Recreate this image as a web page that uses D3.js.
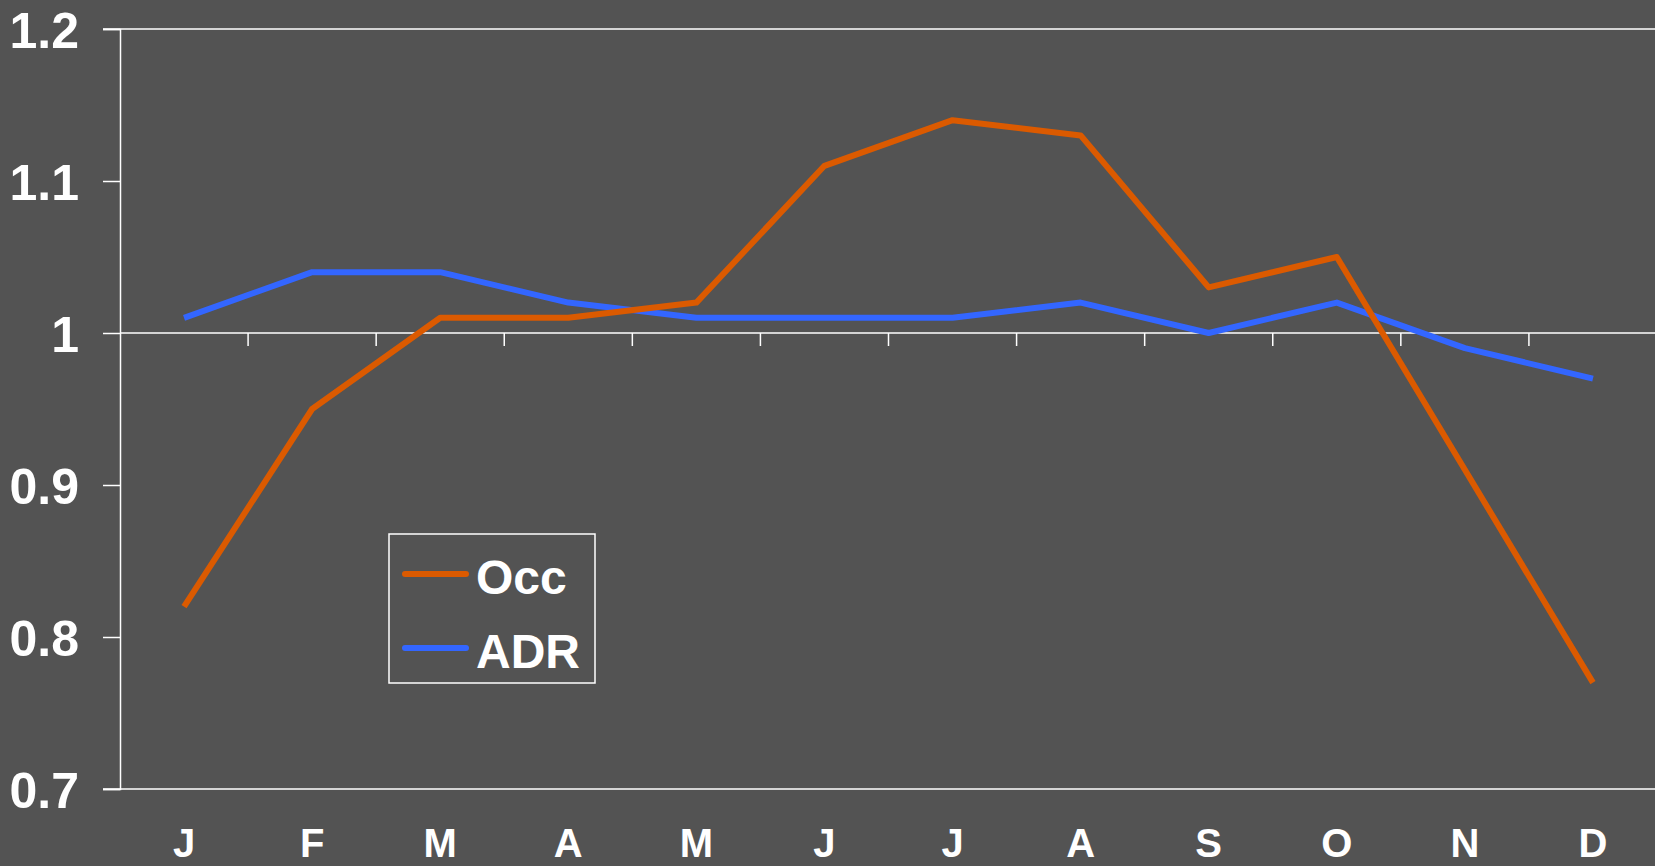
<!DOCTYPE html>
<html>
<meta charset="utf-8">
<title>Occ vs ADR</title>
<script src="https://d3js.org/d3.v7.min.js" charset="utf-8"></script>
<style>
	body { margin: 0; background: #535353; overflow: hidden; }
	text { font-family: "Liberation Sans", Arial, sans-serif; font-weight: bold; fill: #fff; }
	.axis line, .axis path { stroke: #fff; }
</style>
<body>
<script>

	var months = ["J", "F", "M", "A", "M", "J", "J", "A", "S", "O", "N", "D"];
	var occ = [0.82, 0.95, 1.01, 1.01, 1.02, 1.11, 1.14, 1.13, 1.03, 1.05, 0.91, 0.77];
	var adr = [1.01, 1.04, 1.04, 1.02, 1.01, 1.01, 1.01, 1.02, 1.00, 1.02, 0.99, 0.97];
	var yTicks = [0.7, 0.8, 0.9, 1, 1.1, 1.2];

	var width = 1655, height = 866;
	// plot area edges (note: "top" is a reserved global, so keep these in an object)
	var plot = {left: 120, right: 1657, top: 29, bottom: 789};

	var svg = d3.select("body").append("svg")
		.attr("width", width)
		.attr("height", height);

	var x = d3.scaleBand().domain(d3.range(months.length)).range([plot.left, plot.right]);
	var y = d3.scaleLinear().domain([0.7, 1.2]).range([plot.bottom, plot.top]);

	/* top and bottom frame lines */
	svg.selectAll(".hline")
		.data([1.2, 0.7])
		.enter().append("line")
		.attr("class", "hline")
		.attr("x1", plot.left - 17).attr("x2", width)
		.attr("y1", function(d) { return y(d); })
		.attr("y2", function(d) { return y(d); })
		.attr("stroke", "#fff").attr("stroke-width", 1.5);

	/* y axis */
	var yAxis = svg.append("g")
		.attr("class", "axis")
		.attr("transform", "translate(" + plot.left + ",0)")
		.call(d3.axisLeft(y).tickValues(yTicks).tickSize(17).tickPadding(24)
			.tickFormat(function(d) { return String(+d.toFixed(1)); }));
	yAxis.select(".domain").attr("stroke-width", 1.5);
	yAxis.selectAll("line").attr("stroke-width", 1.5);
	yAxis.selectAll("text")
		.style("font-size", "50px")
		.attr("dy", "0.36em");

	/* category axis crossing at 1.0, ticks between months */
	var xAxis = svg.append("g")
		.attr("class", "axis")
		.attr("transform", "translate(0," + y(1) + ")");
	xAxis.append("line")
		.attr("x1", plot.left).attr("x2", width)
		.attr("stroke-width", 1.5);
	xAxis.selectAll(".tick")
		.data(d3.range(1, months.length))
		.enter().append("line")
		.attr("class", "tick")
		.attr("x1", function(i) { return x(i); })
		.attr("x2", function(i) { return x(i); })
		.attr("y1", 0).attr("y2", 13)
		.attr("stroke-width", 1.5);

	/* month labels along bottom */
	svg.selectAll(".month")
		.data(months)
		.enter().append("text")
		.attr("class", "month")
		.attr("x", function(d, i) { return x(i) + x.bandwidth() / 2; })
		.attr("y", 857)
		.attr("text-anchor", "middle")
		.style("font-size", "40px")
		.text(function(d) { return d; });

	var series = [
		{name: "Occ", values: occ, color: "#DB5A00"},
		{name: "ADR", values: adr, color: "#3366FF"}
	];

	var line = d3.line()
		.x(function(d, i) { return x(i) + x.bandwidth() / 2; })
		.y(function(d) { return y(d); });

	svg.selectAll(".series")
		.data(series.slice().reverse())
		.enter().append("path")
		.attr("class", "series")
		.attr("d", function(d) { return line(d.values); })
		.attr("fill", "none")
		.attr("stroke", function(d) { return d.color; })
		.attr("stroke-width", 6)
		.attr("stroke-linejoin", "round");

	/* legend */
	var legend = svg.append("g").attr("transform", "translate(389,534)");
	legend.append("rect")
		.attr("width", 206).attr("height", 149)
		.attr("fill", "none")
		.attr("stroke", "#fff").attr("stroke-width", 1.5);
	var item = legend.selectAll(".item")
		.data(series)
		.enter().append("g")
		.attr("transform", function(d, i) { return "translate(0," + (40 + i * 74) + ")"; });
	item.append("line")
		.attr("x1", 16).attr("x2", 77)
		.attr("stroke", function(d) { return d.color; })
		.attr("stroke-width", 6)
		.attr("stroke-linecap", "round");
	item.append("text")
		.attr("x", 87)
		.attr("y", 20)
		.style("font-size", "48px")
		.text(function(d) { return d.name; });

</script>
</body>
</html>
